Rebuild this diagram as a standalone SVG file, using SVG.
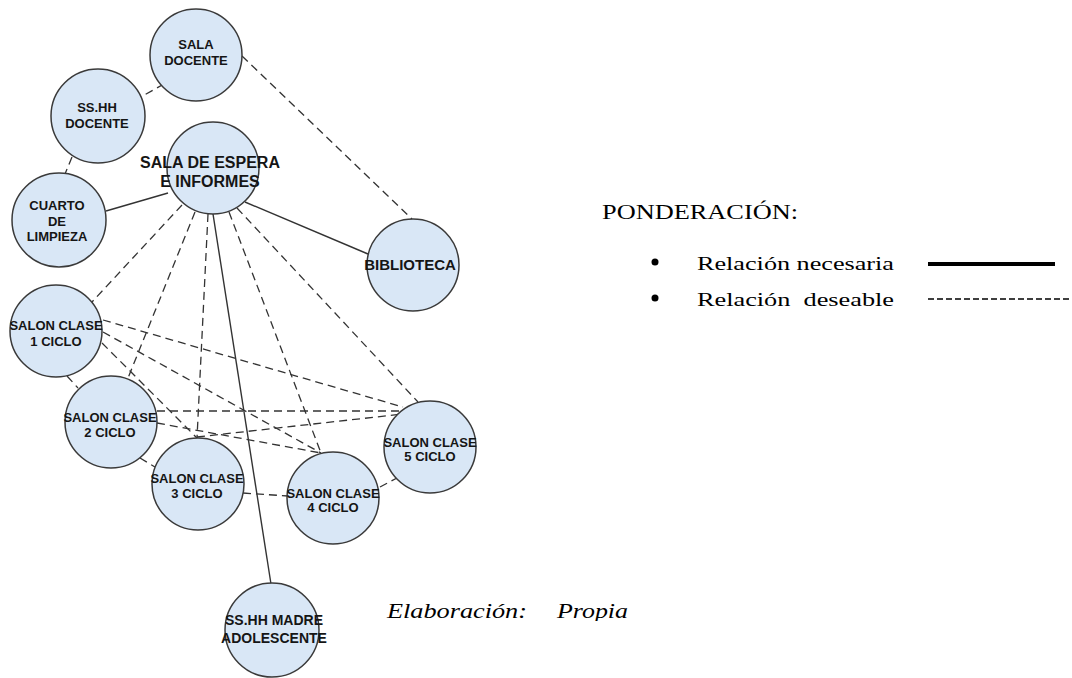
<svg xmlns="http://www.w3.org/2000/svg" width="1072" height="678" viewBox="0 0 1072 678">
<defs>
<style>
.n{fill:#d9e7f6;stroke:#3a3a3a;stroke-width:1.5}
.t{font-family:"Liberation Sans",Arial,sans-serif;font-weight:bold;fill:#151515;text-anchor:middle;font-size:13px}
.s{stroke:#333;stroke-width:1.4;fill:none}
.d{stroke:#333;stroke-width:1.3;fill:none;stroke-dasharray:8 5}
.lg{font-family:"Liberation Serif","Times New Roman",serif;fill:#000}
</style>
<clipPath id="clipE"><rect x="380" y="590" width="300" height="31"/></clipPath>
</defs>
<rect width="1072" height="678" fill="#fff"/>
<g id="connectors">
<line class="d" x1="164" y1="84" x2="139" y2="98"/>
<line class="d" x1="242" y1="56" x2="412" y2="219"/>
<line class="d" x1="72" y1="157" x2="65" y2="174"/>
<line class="s" x1="106" y1="211" x2="168" y2="193"/>
<line class="s" x1="245" y1="202" x2="368" y2="254"/>
<line class="d" x1="182" y1="205" x2="92" y2="302"/>
<line class="d" x1="195" y1="212" x2="128" y2="378"/>
<line class="d" x1="208" y1="214" x2="197" y2="438"/>
<line class="s" x1="213" y1="214" x2="271" y2="584"/>
<line class="d" x1="229" y1="212" x2="321" y2="453"/>
<line class="d" x1="237" y1="208" x2="418" y2="402"/>
<line class="d" x1="103" y1="320" x2="403" y2="407"/>
<line class="d" x1="103" y1="332" x2="321" y2="453"/>
<line class="d" x1="102" y1="343" x2="197" y2="438"/>
<line class="d" x1="67" y1="376" x2="78" y2="388"/>
<line class="d" x1="157" y1="411" x2="403" y2="411"/>
<line class="d" x1="197" y1="437" x2="403" y2="414"/>
<line class="d" x1="157" y1="423" x2="321" y2="453"/>
<line class="d" x1="140" y1="458" x2="155" y2="467"/>
<line class="d" x1="243" y1="493" x2="288" y2="496"/>
<line class="d" x1="380" y1="487" x2="397" y2="478"/>
</g>
<g id="sala-docente"><circle class="n" cx="196" cy="55" r="46"/><text class="t" x="196" y="49" font-size="12.5">SALA</text><text class="t" x="196" y="65" font-size="12.5">DOCENTE</text></g>
<g id="sshh-docente"><circle class="n" cx="98" cy="116" r="47"/><text class="t" x="97" y="112">SS.HH</text><text class="t" x="97" y="128">DOCENTE</text></g>
<g id="cuarto-limpieza"><circle class="n" cx="59" cy="220" r="47"/><text class="t" x="57" y="210">CUARTO</text><text class="t" x="57" y="226">DE</text><text class="t" x="57" y="241">LIMPIEZA</text></g>
<g id="sala-espera"><circle class="n" cx="213" cy="168" r="46"/><text class="t" x="210" y="168" style="font-size:16px">SALA DE ESPERA</text><text class="t" x="210" y="187" style="font-size:16px">E INFORMES</text></g>
<g id="biblioteca"><circle class="n" cx="413" cy="265" r="46"/><text class="t" x="410" y="270" style="font-size:15px">BIBLIOTECA</text></g>
<g id="salon-1"><circle class="n" cx="56" cy="331" r="46"/><text class="t" x="56" y="330">SALON CLASE</text><text class="t" x="56" y="346">1 CICLO</text></g>
<g id="salon-2"><circle class="n" cx="111" cy="422" r="46"/><text class="t" x="110" y="422">SALON CLASE</text><text class="t" x="110" y="437">2 CICLO</text></g>
<g id="salon-3"><circle class="n" cx="198" cy="484" r="46"/><text class="t" x="197" y="483">SALON CLASE</text><text class="t" x="197" y="498">3 CICLO</text></g>
<g id="salon-4"><circle class="n" cx="333" cy="498" r="46"/><text class="t" x="333" y="498">SALON CLASE</text><text class="t" x="333" y="512">4 CICLO</text></g>
<g id="salon-5"><circle class="n" cx="430" cy="447" r="46"/><text class="t" x="430" y="447">SALON CLASE</text><text class="t" x="430" y="461">5 CICLO</text></g>
<g id="sshh-madre"><circle class="n" cx="272" cy="630" r="47"/><text class="t" x="274" y="625" style="font-size:14px">SS.HH MADRE</text><text class="t" x="274" y="643" style="font-size:14px">ADOLESCENTE</text></g>
<g id="legend">
<text class="lg" x="602" y="219" font-size="21" textLength="196" lengthAdjust="spacingAndGlyphs">PONDERACIÓN:</text>
<circle cx="655" cy="262" r="3.5" fill="#000"/>
<circle cx="655" cy="298" r="3.5" fill="#000"/>
<text class="lg" x="697" y="270" font-size="19.5" textLength="197" lengthAdjust="spacingAndGlyphs">Relación necesaria</text>
<text class="lg" x="697" y="306" font-size="19.5" textLength="197" lengthAdjust="spacingAndGlyphs" xml:space="preserve">Relación  deseable</text>
<line x1="928" y1="264" x2="1055" y2="264" stroke="#000" stroke-width="4"/>
<line x1="928" y1="299" x2="1072" y2="299" stroke="#000" stroke-width="1.5" stroke-dasharray="6 3"/>
</g>
<g id="caption" clip-path="url(#clipE)">
<text class="lg" x="387" y="618" font-size="22" font-style="italic" textLength="140" lengthAdjust="spacingAndGlyphs">Elaboración:</text>
<text class="lg" x="557" y="618" font-size="22" font-style="italic" textLength="71" lengthAdjust="spacingAndGlyphs">Propia</text>
</g>
</svg>
